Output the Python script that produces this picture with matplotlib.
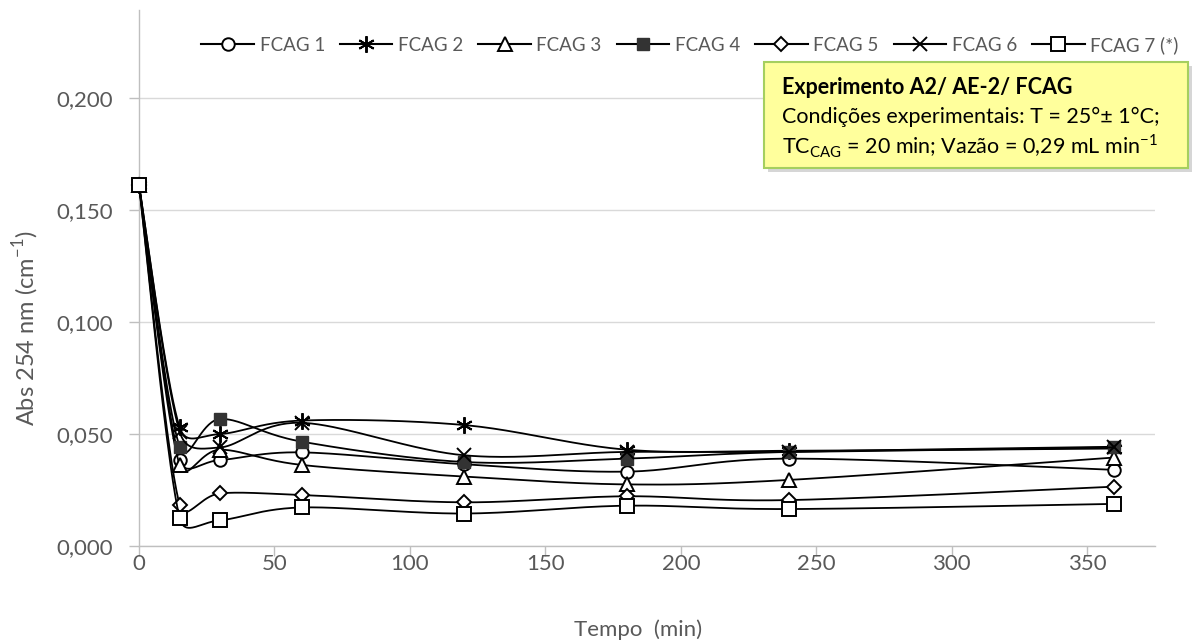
import numpy as np
import matplotlib
matplotlib.use("Agg")
import matplotlib.pyplot as plt
from matplotlib.patches import Rectangle
from matplotlib.lines import Line2D
from matplotlib.ticker import FuncFormatter

# ---------------- data ----------------
tempo = [0, 15, 30, 60, 120, 180, 240, 360]
series_names = ["FCAG 1", "FCAG 2", "FCAG 3", "FCAG 4", "FCAG 5", "FCAG 6", "FCAG 7 (*)"]
fcag1 = [0.161, 0.0385, 0.0384, 0.0418, 0.0365, 0.0332, 0.0390, 0.0340]
fcag2 = [0.161, 0.0530, 0.0500, 0.0560, 0.0540, 0.0430, 0.0425, 0.0435]
fcag3 = [0.161, 0.0360, 0.0430, 0.0362, 0.0310, 0.0275, 0.0295, 0.0395]
fcag4 = [0.161, 0.0443, 0.0567, 0.0466, 0.0375, 0.0390, 0.0420, 0.0443]
fcag5 = [0.161, 0.0183, 0.0235, 0.0228, 0.0195, 0.0222, 0.0205, 0.0265]
fcag6 = [0.161, 0.0510, 0.0440, 0.0550, 0.0405, 0.0420, 0.0420, 0.0440]
fcag7 = [0.161, 0.0125, 0.0115, 0.0172, 0.0145, 0.0180, 0.0165, 0.0188]
all_series = [fcag1, fcag2, fcag3, fcag4, fcag5, fcag6, fcag7]
y_ticks = [0.0, 0.05, 0.10, 0.15, 0.20]
x_ticks = [0, 50, 100, 150, 200, 250, 300, 350]

plt.rcParams["font.family"] = ["Lato", "DejaVu Sans"]

W, H = 1194, 644
fig = plt.figure(figsize=(W / 100, H / 100), dpi=100)
L, R, B, T = 139, 1155, 546, 10
ax = fig.add_axes([L / W, 1 - B / H, (R - L) / W, (B - T) / H])
XMAX = 375.0
YMAX = (B - T) / 2240.0
ax.set_xlim(0, XMAX)
ax.set_ylim(0, YMAX)
sx = (R - L) / XMAX
sy = (B - T) / YMAX


def excel_smooth(x, y, n=40):
    P = np.column_stack([np.asarray(x, float) * sx, np.asarray(y, float) * sy])
    m = len(P)
    out = [P[0]]
    for i in range(m - 1):
        p0 = P[i - 1] if i > 0 else P[i]
        p1, p2 = P[i], P[i + 1]
        p3 = P[i + 2] if i + 2 < m else P[i + 1]
        d12 = np.linalg.norm(p2 - p1)
        t1 = (p2 - p0) / 6.0
        t2 = (p3 - p1) / 6.0
        n1, n2 = np.linalg.norm(t1), np.linalg.norm(t2)
        if n1 > 0.5 * d12:
            t1 = t1 * 0.5 * d12 / n1
        if n2 > 0.5 * d12:
            t2 = t2 * 0.5 * d12 / n2
        c1, c2 = p1 + t1, p2 - t2
        t = np.linspace(0, 1, n)[1:, None]
        Bz = (1 - t) ** 3 * p1 + 3 * (1 - t) ** 2 * t * c1 + 3 * (1 - t) * t ** 2 * c2 + t ** 3 * p2
        out.extend(Bz)
    out = np.array(out)
    return out[:, 0] / sx, out[:, 1] / sy


styles = [
    dict(marker="o", ms=9, mfc="white", mec="black", mew=1.4),
    dict(marker=(6, 2, 0), ms=12, mfc="black", mec="black", mew=1.4),
    dict(marker="^", ms=9.5, mfc="white", mec="black", mew=1.4),
    dict(marker="s", ms=9, mfc="#333333", mec="#333333", mew=1.0),
    dict(marker="D", ms=7.5, mfc="white", mec="black", mew=1.4),
    dict(marker="x", ms=10, mfc="black", mec="black", mew=1.4),
    dict(marker="s", ms=9.5, mfc="white", mec="black", mew=1.4),
]

handles = []
for k, (vals, st) in enumerate(zip(all_series, styles)):
    xs, ys = excel_smooth(tempo, vals)
    ax.plot(xs, ys, color="black", lw=1.3, zorder=3 + 2 * k, clip_on=False)
    ax.plot(tempo, vals, linestyle="none", zorder=4 + 2 * k, clip_on=False, **st)
    handles.append(Line2D([0], [0], color="black", lw=1.5, **st))

# axes styling
grey = "#595959"
ax.set_yticks(y_ticks)
ax.set_xticks(x_ticks)
ax.yaxis.set_major_formatter(FuncFormatter(lambda v, p: f"{v:.3f}".replace(".", ",")))
ax.grid(axis="y", color="#D9D9D9", lw=1.0, zorder=0)
ax.set_axisbelow(True)
for s in ["top", "right"]:
    ax.spines[s].set_visible(False)
for s in ["left", "bottom"]:
    ax.spines[s].set_color("#BFBFBF")
    ax.spines[s].set_linewidth(1.0)
ax.tick_params(axis="both", colors="#BFBFBF", length=7, width=1.0, labelsize=16,
               labelcolor=grey)
ax.tick_params(axis="x", pad=-1)
ax.tick_params(axis="y", pad=12)
ax.set_xlabel("Tempo  (min)", fontsize=16, color=grey)
ax.xaxis.set_label_coords((638 - L) / (R - L), -(630 - B) / (B - T), transform=ax.transAxes)
ax.xaxis.label.set_va("center")
ax.set_ylabel("Abs 254 nm (cm$^{\\mathregular{-1}}$)", fontsize=17, color=grey)
ax.yaxis.set_label_coords(-(L - 26) / (R - L), (B - 328) / (B - T), transform=ax.transAxes)
ax.yaxis.label.set_va("center")

# legend
leg = fig.legend(handles, series_names, loc="center", bbox_to_anchor=(690 / W, 1 - 45 / H),
                 ncol=7, frameon=False, fontsize=13.5, handlelength=2.8,
                 handletextpad=0.3, columnspacing=0.8, labelcolor=grey,
                 borderpad=0.2, borderaxespad=0.0)

# annotation box
bx0, by0, bx1, by1 = 764, 62, 1188, 168
shadow = Rectangle(((bx0 + 4) / W, 1 - (by1 + 4) / H), (bx1 - bx0) / W, (by1 - by0) / H,
                   transform=fig.transFigure, facecolor="#BBBBBB", edgecolor="none",
                   alpha=0.6, zorder=20)
box = Rectangle((bx0 / W, 1 - by1 / H), (bx1 - bx0) / W, (by1 - by0) / H,
                transform=fig.transFigure, facecolor="#FFFF9C", edgecolor="#A5CF5F",
                lw=1.5, zorder=21)
fig.add_artist(shadow)
fig.add_artist(box)
tx = 782 / W
fig.text(tx, 1 - 88 / H, "Experimento A2/ AE-2/ FCAG", fontsize=15.5, fontweight="bold",
         color="black", va="center", ha="left", zorder=22)
fig.text(tx, 1 - 117 / H, "Condições experimentais: T = 25°± 1°C;", fontsize=15.5,
         color="black", va="center", ha="left", zorder=22)
fig.text(tx, 1 - 146 / H, "TC$_{\\mathregular{CAG}}$ = 20 min; Vazão = 0,29 mL min$^{\\mathregular{-1}}$",
         fontsize=15.5, color="black", va="center", ha="left", zorder=22)

fig.savefig("out.png", dpi=100)
